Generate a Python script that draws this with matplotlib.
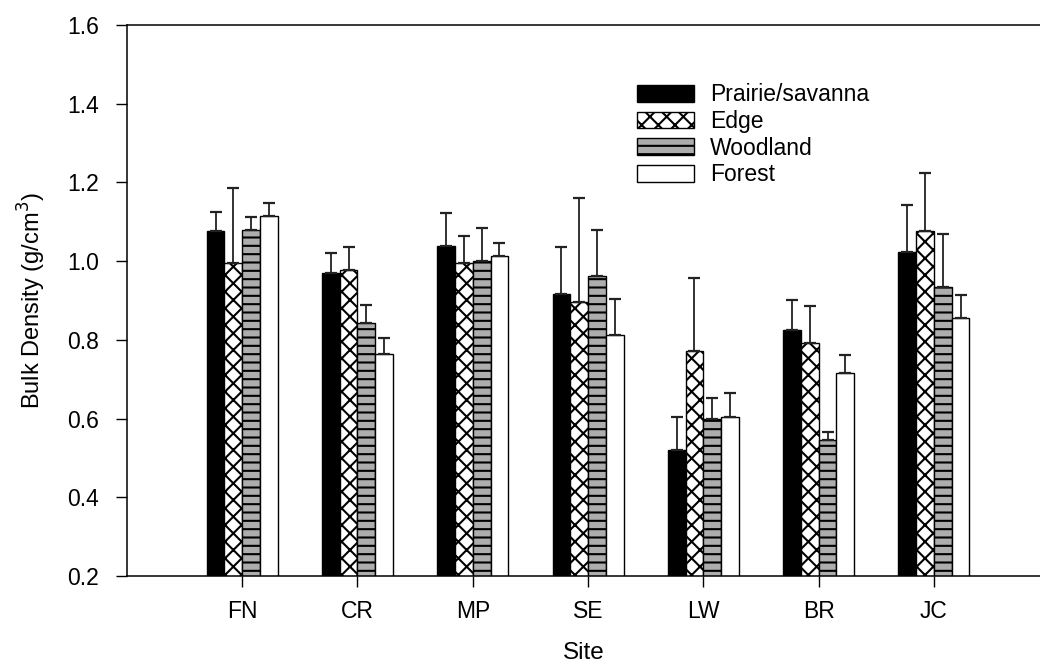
import numpy as np
import matplotlib
matplotlib.use("Agg")
import matplotlib.pyplot as plt

plt.rcParams['font.family'] = ['Liberation Sans', 'DejaVu Sans']
plt.rcParams['hatch.linewidth'] = 1.5

# data
sites = ['FN', 'CR', 'MP', 'SE', 'LW', 'BR', 'JC']
habitats = ['Prairie/savanna', 'Edge', 'Woodland', 'Forest']
prairie = [1.077, 0.970, 1.039, 0.916, 0.519, 0.826, 1.024]
edge = [0.996, 0.978, 0.996, 0.897, 0.771, 0.792, 1.077]
woodland = [1.080, 0.842, 1.000, 0.962, 0.600, 0.546, 0.935]
forest = [1.116, 0.765, 1.013, 0.812, 0.605, 0.716, 0.855]
prairie_err = [0.048, 0.052, 0.083, 0.121, 0.086, 0.076, 0.119]
edge_err = [0.190, 0.058, 0.067, 0.263, 0.187, 0.093, 0.147]
woodland_err = [0.031, 0.047, 0.084, 0.118, 0.053, 0.021, 0.133]
forest_err = [0.032, 0.040, 0.033, 0.092, 0.060, 0.046, 0.059]

values = [prairie, edge, woodland, forest]
errors = [prairie_err, edge_err, woodland_err, forest_err]
faces = ['black', 'white', '#adadad', 'white']
hatches = [None, 'xx', '--', None]

fig = plt.figure(figsize=(10.4, 6.64), dpi=100)
ax = fig.add_axes([0.122, 0.1325, 0.878, 0.8298])

x = np.arange(len(sites))
w = 0.154
for i in range(4):
    pos = x + (i - 1.5) * w
    ax.bar(pos, values[i], w, color=faces[i], edgecolor='black',
           linewidth=1.0, hatch=hatches[i], label=habitats[i], zorder=2)
    ax.errorbar(pos, values[i], yerr=[np.zeros(len(sites)), errors[i]],
                fmt='none', ecolor='#222222', elinewidth=1.3, capsize=4.5,
                capthick=1.6, zorder=3)

ax.set_ylim(0.2, 1.6)
ax.set_xlim(-1.0, 6.92)
ax.set_yticks(np.arange(0.2, 1.61, 0.2))
ax.set_yticklabels(['%.1f' % v for v in np.arange(0.2, 1.61, 0.2)])
ax.set_xticks(x)
ax.set_xticklabels(sites)
ax.tick_params(axis='y', direction='out', length=8, width=1, labelsize=16.5, pad=12)
ax.tick_params(axis='x', direction='out', length=8, width=1, labelsize=16.5, pad=9)
ax.spines['right'].set_visible(False)
for s in ['left', 'top', 'bottom']:
    ax.spines[s].set_linewidth(1.1)

ax.set_xlabel('Site', fontsize=17.5, labelpad=14)
ax.set_ylabel('Bulk Density (g/cm$^3$)', fontsize=17, labelpad=14)

ax.legend(loc='upper left', bbox_to_anchor=(0.5945, 0.902),
          bbox_transform=fig.transFigure, frameon=False, fontsize=16.5,
          handlelength=2.5, handleheight=0.75, labelspacing=0.16,
          handletextpad=0.7, borderpad=0.3)

fig.savefig('out.png', dpi=100)
